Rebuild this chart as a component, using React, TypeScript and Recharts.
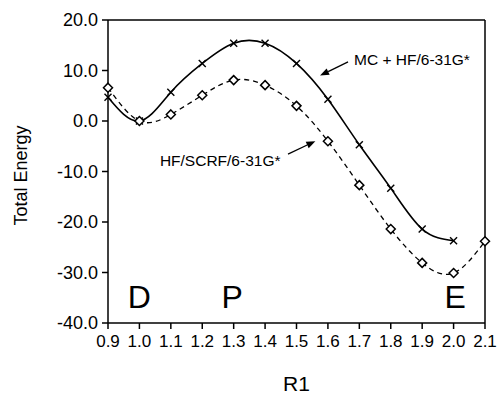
import {
  Label,
  Line,
  LineChart,
  ReferenceDot,
  ReferenceLine,
  XAxis,
  YAxis,
} from "recharts"

const r1 = [0.9, 1.0, 1.1, 1.2, 1.3, 1.4, 1.5, 1.6, 1.7, 1.8, 1.9, 2.0, 2.1]
const mcHf = [4.7, 0, 5.7, 11.4, 15.4, 15.4, 11.4, 4.3, -4.7, -13.3, -21.4, -23.7, null]
const hfScrf = [6.6, 0, 1.3, 5.1, 8.1, 7.1, 3.0, -4.0, -12.7, -21.4, -28.1, -30.1, -23.8]
const yTicks = [-40, -30, -20, -10, 0, 10, 20]

const data = r1.map((r, i) => ({ r1: r, mc: mcHf[i], scrf: hfScrf[i] }))

const FONT = "'Liberation Sans', Arial, Helvetica, sans-serif"

function CrossDot(props: any) {
  const { cx, cy } = props
  if (cx == null || cy == null) return null
  const s = 3.5
  return (
    <g stroke="#000" strokeWidth={1.4}>
      <line x1={cx - s} y1={cy - s} x2={cx + s} y2={cy + s} />
      <line x1={cx - s} y1={cy + s} x2={cx + s} y2={cy - s} />
    </g>
  )
}

function DiamondDot(props: any) {
  const { cx, cy } = props
  if (cx == null || cy == null) return null
  const s = 4.5
  return (
    <polygon
      points={`${cx},${cy - s} ${cx + s},${cy} ${cx},${cy + s} ${cx - s},${cy}`}
      fill="#fff"
      stroke="#000"
      strokeWidth={1.5}
    />
  )
}

function Arrow(props: any) {
  const { x1, y1, x2, y2 } = props
  const dx = x2 - x1
  const dy = y2 - y1
  const len = Math.sqrt(dx * dx + dy * dy)
  const ux = dx / len
  const uy = dy / len
  const hl = 9
  const hw = 3.5
  const bx = x2 - ux * hl
  const by = y2 - uy * hl
  return (
    <g>
      <line x1={x1} y1={y1} x2={bx} y2={by} stroke="#000" strokeWidth={1.3} />
      <polygon
        points={`${x2},${y2} ${bx - uy * hw},${by + ux * hw} ${bx + uy * hw},${by - ux * hw}`}
        fill="#000"
      />
    </g>
  )
}

export default function App() {
  return (
    <div style={{ position: "absolute", left: 0, top: 0, background: "#fff" }}>
      <LineChart
        width={497}
        height={396}
        data={data}
        margin={{ top: 20, right: 12, left: 0, bottom: 0 }}
      >
        <XAxis
          dataKey="r1"
          type="number"
          domain={[0.9, 2.1]}
          ticks={r1}
          tickFormatter={(v: number) => v.toFixed(1)}
          height={73}
          tickSize={6}
          tickMargin={6}
          stroke="#000"
          strokeWidth={1.5}
          tick={{ fill: "#000", fontSize: 17, fontFamily: FONT }}
          interval={0}
        >
          <Label
            content={(p: any) => (
              <text
                x={p.viewBox.x + p.viewBox.width / 2}
                y={p.viewBox.y + 68}
                textAnchor="middle"
                fontSize={21}
                fontFamily={FONT}
                fill="#000"
              >
                R1
              </text>
            )}
          />
        </XAxis>
        <YAxis
          type="number"
          domain={[-40, 20]}
          ticks={yTicks}
          tickFormatter={(v: number) => v.toFixed(1)}
          width={108}
          tickSize={6}
          tickMargin={4}
          stroke="#000"
          strokeWidth={1.5}
          tick={{ fill: "#000", fontSize: 18, fontFamily: FONT }}
          interval={0}
        >
          <Label
            content={(p: any) => {
              const cx = 21
              const cy = p.viewBox.y + p.viewBox.height / 2 + 4
              return (
                <text
                  x={cx}
                  y={cy}
                  transform={`rotate(-90 ${cx} ${cy})`}
                  textAnchor="middle"
                  dominantBaseline="central"
                  fontSize={18}
                  fontFamily={FONT}
                  fill="#000"
                >
                  Total Energy
                </text>
              )
            }}
          />
        </YAxis>
        <ReferenceLine y={20} stroke="#000" strokeWidth={1.5} />
        <ReferenceLine x={2.1} stroke="#000" strokeWidth={1.5} />
        <Line
          dataKey="mc"
          type="natural"
          stroke="#000"
          strokeWidth={1.6}
          dot={<CrossDot />}
          activeDot={false}
          isAnimationActive={false}
        />
        <Line
          dataKey="scrf"
          type="natural"
          stroke="#000"
          strokeWidth={1.3}
          strokeDasharray="5 4"
          dot={<DiamondDot />}
          activeDot={false}
          isAnimationActive={false}
        />
        <ReferenceLine
          segment={[
            { x: 1.664, y: 11.7 },
            { x: 1.575, y: 9.0 },
          ]}
          shape={<Arrow />}
        />
        <ReferenceLine
          segment={[
            { x: 1.473, y: -6.55 },
            { x: 1.56, y: -4.0 },
          ]}
          shape={<Arrow />}
        />
        <ReferenceDot
          x={1.68}
          y={12.2}
          r={1}
          fill="none"
          stroke="none"
          label={{ value: "MC + HF/6-31G*", position: "right", offset: 0, fill: "#000", fontSize: 15.5, fontFamily: FONT }}
        />
        <ReferenceDot
          x={1.062}
          y={-7.8}
          r={1}
          fill="none"
          stroke="none"
          label={{ value: "HF/SCRF/6-31G*", position: "right", offset: 0, fill: "#000", fontSize: 15.5, fontFamily: FONT }}
        />
        <ReferenceDot
          x={1.0}
          y={-34.7}
          r={1}
          fill="none"
          stroke="none"
          label={{ value: "D", position: "center", fill: "#000", fontSize: 32, fontFamily: FONT }}
        />
        <ReferenceDot
          x={1.295}
          y={-34.7}
          r={1}
          fill="none"
          stroke="none"
          label={{ value: "P", position: "center", fill: "#000", fontSize: 32, fontFamily: FONT }}
        />
        <ReferenceDot
          x={2.005}
          y={-34.7}
          r={1}
          fill="none"
          stroke="none"
          label={{ value: "E", position: "center", fill: "#000", fontSize: 32, fontFamily: FONT }}
        />
      </LineChart>
    </div>
  )
}
